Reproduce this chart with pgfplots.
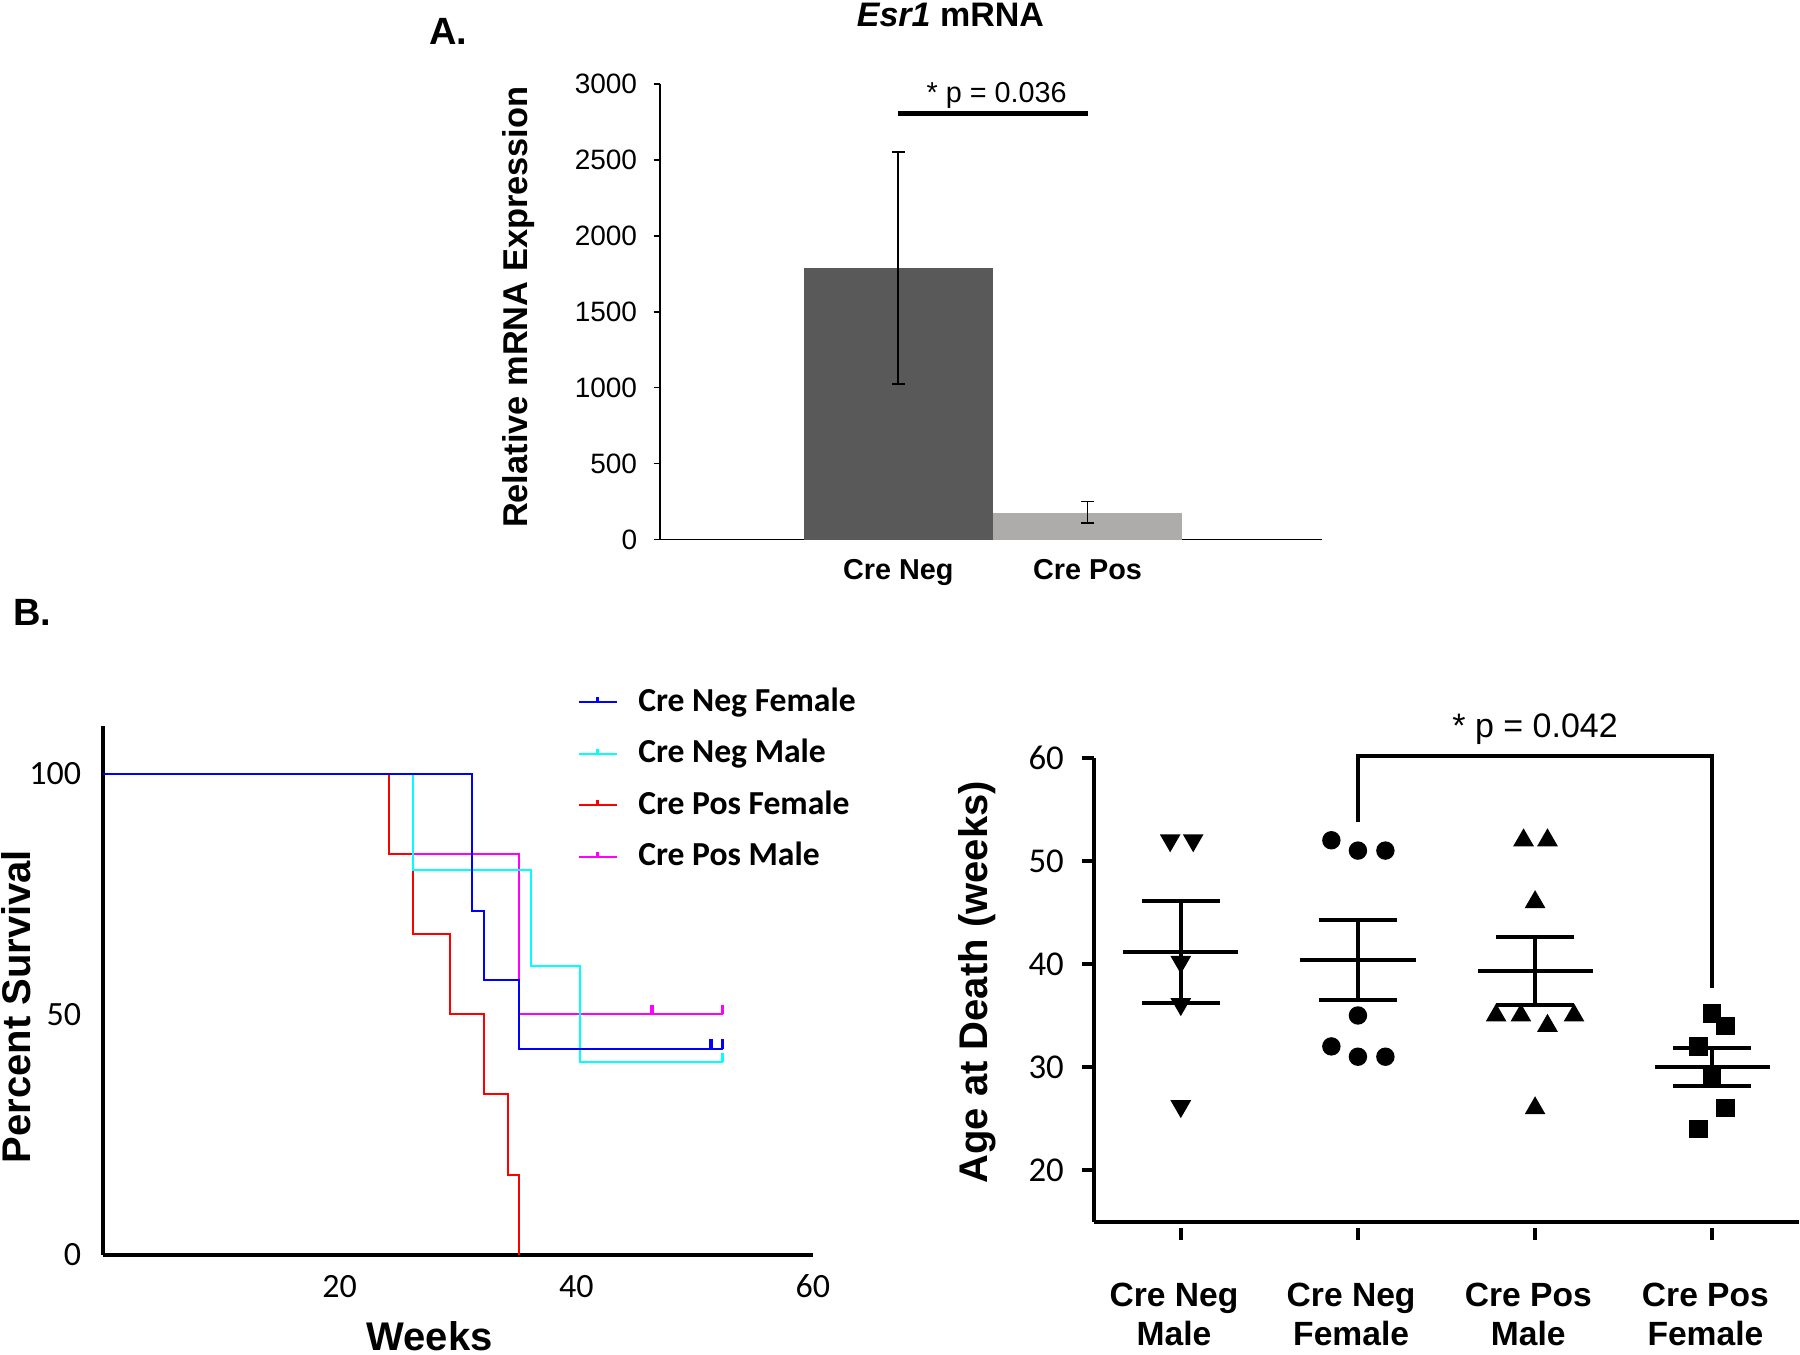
\documentclass[border=0pt]{standalone}
\usepackage{pgfplots}
\pgfplotsset{compat=1.18}
\usepackage{fontspec}
\setmainfont{Liberation Sans}
\newfontfamily\carlito{Carlito}
\pgfdeclareplotmark{cens}{\pgfpathmoveto{\pgfpointorigin}\pgfpathlineto{\pgfqpoint{0pt}{2.4pt}}\pgfusepathqstroke}
\definecolor{darkbar}{HTML}{595959}
\definecolor{lightbar}{HTML}{AEABAB}
\definecolor{kmblue}{RGB}{0,0,255}
\definecolor{kmcyan}{RGB}{0,255,255}
\definecolor{kmred}{RGB}{255,0,0}
\definecolor{kmmag}{RGB}{255,0,255}
\begin{document}
\begin{tikzpicture}
\path[use as bounding box] (0,0) rectangle (450pt,338.5pt);

% ---------------- Panel A ----------------
\begin{axis}[
  at={(165pt,203.6pt)}, anchor=south west,
  scale only axis, width=165.6pt, height=113.95pt,
  xmin=-0.258, xmax=3.24, ymin=0, ymax=3000,
  axis x line*=bottom, axis y line*=left,
  axis line style={-, line width=0.4pt, black},
  ytick={0,500,...,3000},
  xtick={1,2}, xticklabels={Cre Neg, Cre Pos},
  tick align=outside, major tick length=1.6pt,
  tick style={black, line width=0.4pt},
  xtick style={draw=none},
  /pgf/number format/assume math mode=true,
  yticklabel style={font=\fontsize{7}{8}\selectfont, xshift=-0.6pt},
  xticklabel style={font=\bfseries\fontsize{7.2}{8}\selectfont, yshift=0.3pt},
  /pgf/number format/1000 sep={}, scaled y ticks=false,
  ylabel={Relative mRNA Expression},
  every axis y label/.style={at={(axis description cs:-0.213,0.51)}, rotate=90, anchor=center, font=\bfseries\fontsize{8.6}{10}\selectfont},
  clip=false,
]
\addplot[ybar, bar shift=0pt, bar width=47.35pt, fill=darkbar, draw=none,
  error bars/.cd, y dir=both, y explicit,
  error bar style={draw=black, line width=0.4pt},
  error mark options={draw=black, rotate=90, mark size=1.6pt, line width=0.4pt}]
  coordinates {(1,1785) += (0,766) -= (0,761)};
\addplot[ybar, bar shift=0pt, bar width=47.35pt, fill=lightbar, draw=none,
  error bars/.cd, y dir=both, y explicit,
  error bar style={draw=black, line width=0.4pt},
  error mark options={draw=black, rotate=90, mark size=1.6pt, line width=0.4pt}]
  coordinates {(2,176) += (0,76) -= (0,65)};
\addplot[black, line width=1.2pt] coordinates {(1,2804) (2,2804)};
\node[font=\fontsize{7.2}{8}\selectfont] at (axis cs:1.52,2925) {* p = 0.036};
\end{axis}

% ---------------- Panel B left (survival) ----------------
\begin{axis}[
  at={(25.8pt,24.8pt)}, anchor=south west,
  scale only axis, width=177.4pt, height=132.3pt,
  xmin=0, xmax=60, ymin=0, ymax=110,
  axis x line*=bottom, axis y line*=left,
  axis line style={-, line width=0.9pt, black},
  xtick={20,40,60}, ytick={0,50,100},
  major tick length=0pt,
  ticklabel style={font=\carlito\fontsize{8.5}{10}\selectfont},
  /pgf/number format/assume math mode=true,
  yticklabel style={xshift=-2pt},
  xticklabel style={yshift=-1.5pt},
  xlabel={Weeks}, ylabel={Percent Survival},
  every axis x label/.style={at={(axis description cs:0.46,-0.153)}, anchor=center, font=\bfseries\fontsize{10}{12}\selectfont},
  every axis y label/.style={at={(axis description cs:-0.123,0.469)}, rotate=90, anchor=center, font=\bfseries\fontsize{10}{12}\selectfont},
  legend style={at={(axis description cs:0.668,1.078)}, anchor=north west, draw=none, fill=none, inner sep=0pt,
    font=\carlito\bfseries\fontsize{8.4}{10}\selectfont,
    nodes={inner ysep=0pt, inner xsep=0pt, text height=6.5pt, text depth=2pt},
    row sep=4.4pt, column sep=5.2pt},
  legend cell align=left,
  legend image code/.code={\draw (0pt,0pt) -- (9.4pt,0pt); \draw[line width=0.7pt] (4.7pt,0pt) -- (4.7pt,1.3pt);},
]
% Cre Pos Female (red)
\addplot[kmred, line width=0.5pt, const plot, forget plot] coordinates {(0,100) (24.2,83.33) (26.2,66.67) (29.3,50) (32.2,33.33) (34.2,16.67) (35.2,0)};
% Cre Pos Male (magenta)
\addplot[kmmag, line width=0.5pt, const plot, forget plot] coordinates {(0,100) (26.2,83.33) (35.2,50) (52.4,50)};
\addplot[kmmag, only marks, mark=cens, mark options={line width=0.8pt}, forget plot] coordinates {(46.4,50) (52.4,50)};
% Cre Neg Male (cyan)
\addplot[kmcyan, line width=0.5pt, const plot, forget plot] coordinates {(0,100) (26.2,80) (36.2,60) (40.3,40) (52.4,40)};
\addplot[kmcyan, only marks, mark=cens, mark options={line width=0.8pt}, forget plot] coordinates {(52.4,40)};
% Cre Neg Female (blue)
\addplot[kmblue, line width=0.5pt, const plot, forget plot] coordinates {(0,100) (31.2,71.43) (32.2,57.14) (35.2,42.86) (52.4,42.86)};
\addplot[kmblue, only marks, mark=cens, mark options={line width=0.8pt}, forget plot] coordinates {(51.4,42.86) (52.4,42.86)};
\addlegendimage{kmblue, line width=0.5pt}
\addlegendentry{Cre Neg Female}
\addlegendimage{kmcyan, line width=0.5pt}
\addlegendentry{Cre Neg Male}
\addlegendimage{kmred, line width=0.5pt}
\addlegendentry{Cre Pos Female}
\addlegendimage{kmmag, line width=0.5pt}
\addlegendentry{Cre Pos Male}
\end{axis}

% ---------------- Panel B right (scatter) ----------------
\begin{axis}[
  at={(273.5pt,33.1pt)}, anchor=south west,
  scale only axis, width=176.25pt, height=115.95pt,
  xmin=0.51, xmax=4.49, ymin=15, ymax=60,
  axis x line*=bottom, axis y line*=left,
  axis line style={-, line width=1pt, black},
  ytick={20,30,...,60}, xtick={1,2,3,4},
  xticklabels={{Cre Neg\\Male},{Cre Neg\\Female},{Cre Pos\\Male},{Cre Pos\\Female}},
  tick align=outside, major tick length=3pt,
  tick style={black, line width=1pt},
  xtick style={yshift=-1.5pt},
  yticklabel style={font=\carlito\fontsize{8.7}{10}\selectfont, xshift=-1pt},
  /pgf/number format/assume math mode=true,
  xticklabel style={align=center, font=\bfseries\fontsize{8.4}{9.75}\selectfont, yshift=-8.9pt, xshift=-1.7pt},
  ylabel={Age at Death (weeks)},
  every axis y label/.style={at={(axis description cs:-0.165,0.516)}, rotate=90, anchor=center, font=\bfseries\fontsize{10}{12}\selectfont},
  clip=false,
]
% points
\addplot[black, only marks, mark=triangle*, mark size=2.6pt, mark options={rotate=180, fill=black}]
  coordinates {(0.94,52) (1.07,52) (1,40.2) (1,36.1) (1,26.2)};
\addplot[black, only marks, mark=*, mark size=2.1pt, mark options={fill=black}]
  coordinates {(1.85,52) (2,51) (2.155,51) (2,35) (1.85,32) (2,31) (2.155,31)};
\addplot[black, only marks, mark=triangle*, mark size=2.6pt, mark options={fill=black}]
  coordinates {(2.935,52) (3.07,52) (3,46) (2.78,35) (2.92,35) (3.07,34) (3.22,35) (3,26)};
\addplot[black, only marks, mark=square*, mark size=2.1pt, mark options={fill=black}]
  coordinates {(4,35.2) (4.074,34) (3.923,32) (4,29.2) (4.074,26) (3.923,24)};
% means
\addplot[black, line width=1pt] coordinates {(0.675,41.15) (1.325,41.15)};
\addplot[black, line width=1pt] coordinates {(1.675,40.4) (2.325,40.4)};
\addplot[black, line width=1pt] coordinates {(2.675,39.3) (3.325,39.3)};
\addplot[black, line width=1pt] coordinates {(3.675,30.0) (4.325,30.0)};
% SEM
\addplot[draw=none, mark=none, error bars/.cd, y dir=both, y explicit,
  error bar style={draw=black, line width=1pt},
  error mark options={draw=black, rotate=90, mark size=9.74pt, line width=1pt}]
  coordinates {(1,41.15) += (0,4.95) -= (0,4.95)
               (2,40.4) += (0,3.85) -= (0,3.9)
               (3,39.3) += (0,3.3) -= (0,3.3)
               (4,30.0) += (0,1.85) -= (0,1.85)};
% bracket
\addplot[black, line width=1pt] coordinates {(2,53.8) (2,60.2) (4,60.2) (4,37.7)};
\node[font=\fontsize{8.5}{10}\selectfont] at (axis cs:3,62.8) {* p = 0.042};
\end{axis}

% panel letters and title
\node[font=\bfseries\fontsize{9.5}{11}\selectfont] at (112pt,330.75pt) {A.};
\node[font=\bfseries\fontsize{9.5}{11}\selectfont] at (8pt,185.5pt) {B.};
\node[font=\bfseries\fontsize{8.5}{10}\selectfont] at (237.6pt,334.75pt) {\textit{Esr1} mRNA};
\end{tikzpicture}
\end{document}
